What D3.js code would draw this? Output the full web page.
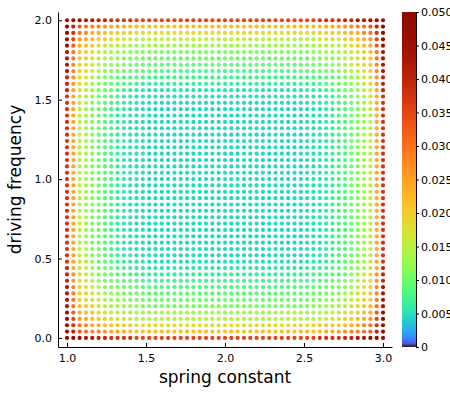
<!DOCTYPE html>
<html>
<head>
<meta charset="utf-8">
<script src="https://cdn.jsdelivr.net/npm/d3@7"></script>
<style>
  body { margin: 0; background: #fff; }
</style>
</head>
<body>
<div id="chart"></div>
<script>
'use strict';

// parameter scan: x = spring constant, y = driving frequency (top row first)
const springConstant = [1.00, 1.04, 1.08, 1.12, 1.16, 1.20, 1.24, 1.28, 1.32, 1.36, 1.40, 1.44, 1.48,
  1.52, 1.56, 1.60, 1.64, 1.68, 1.72, 1.76, 1.80, 1.84, 1.88, 1.92, 1.96, 2.00, 2.04, 2.08, 2.12,
  2.16, 2.20, 2.24, 2.28, 2.32, 2.36, 2.40, 2.44, 2.48, 2.52, 2.56, 2.60, 2.64, 2.68, 2.72, 2.76,
  2.80, 2.84, 2.88, 2.92, 2.96, 3.00];

const drivingFrequency = [2.00, 1.96, 1.92, 1.88, 1.84, 1.80, 1.76, 1.72, 1.68, 1.64, 1.60, 1.56, 1.52,
  1.48, 1.44, 1.40, 1.36, 1.32, 1.28, 1.24, 1.20, 1.16, 1.12, 1.08, 1.04, 1.00, 0.96, 0.92, 0.88,
  0.84, 0.80, 0.76, 0.72, 0.68, 0.64, 0.60, 0.56, 0.52, 0.48, 0.44, 0.40, 0.36, 0.32, 0.28, 0.24,
  0.20, 0.16, 0.12, 0.08, 0.04, 0.00];

// one character per point, looked up in levelValues (spaces only for readability)
const levelCodes = '0123456789abcdefghijklmnopqrst';
const levelValues = [0.0045, 0.0050, 0.0055, 0.0060, 0.0065, 0.0070, 0.0075, 0.0080, 0.0090, 0.0100,
  0.0110, 0.0120, 0.0130, 0.0140, 0.0150, 0.0165, 0.0180, 0.0200, 0.0220, 0.0240, 0.0260, 0.0280,
  0.0300, 0.0325, 0.0350, 0.0375, 0.0400, 0.0430, 0.0460, 0.0500];

const errorRows = [
  'ttsrrqqppppooo ooooo ooooo ooooo ooooo ooo oooppppqqrrstt',
  'tqnmllkjjjiiii iiiii iiiii iiiii iiiii iii iiiijjjkllmnqt',
  'tpmljjihhhhggg ggggg ggggg ggggg ggggg ggg ggghhhhijjlmpt',
  'tokjihhggffeee eeeee eeeee eeeee eeeee eee eeeffgghhijkot',
  'snjihgfeeddccc ccccc ccccc ccccc ccccc ccc cccddeefghijns',
  'rmihgfedccbbaa aaaaa aaaaa aaaaa aaaaa aaa aabbccdefghimr',
  'rmhhfedcbbaa99 99999 99999 99999 99999 999 99aabbcdefhhmr',
  'rlhgfecbba9998 88888 88888 88888 88888 888 8999abbcefghlr',
  'rlhgedbaa99888 77777 77777 77777 77777 777 88899aabdeghlr',
  'qkgfdba9877766 55555 55555 55555 55555 555 6677789abdfgkq',
  'qkgecb98876544 44444 44444 44444 44444 444 44567889bcegkq',
  'qjfeba98754332 22222 22222 22222 22222 222 23345789abefjq',
  'pjfdb987543221 11111 11111 11111 11111 111 122345789bdfjp',
  'pjfda986543211 00000 00000 00000 00000 000 112345689adfjp',
  'pjeda976432110 00000 00000 00000 00000 000 011234679adejp',
  'pjeda976432110 00000 00000 00000 00000 000 011234679adejp',
  'pjeda976432110 00000 00000 00000 00000 000 011234679adejp',
  'pjeda976432110 00000 00000 00000 00000 000 011234679adejp',
  'pjeda976432110 00000 00000 00000 00000 000 011234679adejp',
  'pjeda976432110 00000 00000 00000 00000 000 011234679adejp',
  'pjeda976432110 00000 00000 00000 00000 000 011234679adejp',
  'pjeda976432110 00000 00000 00000 00000 000 011234679adejp',
  'pjeda976432110 00000 00000 00000 00000 000 011234679adejp',
  'pjeda976432110 00000 00000 00000 00000 000 011234679adejp',
  'pjeda976432110 00000 00000 00000 00000 000 011234679adejp',
  'pjeda976432110 00000 00000 00000 00000 000 011234679adejp',
  'pjeda976432110 00000 00000 00000 00000 000 011234679adejp',
  'pjeda976432110 00000 00000 00000 00000 000 011234679adejp',
  'pjeda976432110 00000 00000 00000 00000 000 011234679adejp',
  'pjeda976432110 00000 00000 00000 00000 000 011234679adejp',
  'pjeda976432110 00000 00000 00000 00000 000 011234679adejp',
  'pjeda976432110 00000 00000 00000 00000 000 011234679adejp',
  'pjeda976432110 00000 00000 00000 00000 000 011234679adejp',
  'pjeda976432110 00000 00000 00000 00000 000 011234679adejp',
  'pjeda976432110 00000 00000 00000 00000 000 011234679adejp',
  'pjeda976432110 00000 00000 00000 00000 000 011234679adejp',
  'pjeda976432110 00000 00000 00000 00000 000 011234679adejp',
  'pjfda986543211 00000 00000 00000 00000 000 112345689adfjp',
  'pjfdb987543221 11111 11111 11111 11111 111 122345789bdfjp',
  'qjfeba98754332 22222 22222 22222 22222 222 23345789abefjq',
  'qkgecb98876544 44444 44444 44444 44444 444 44567889bcegkq',
  'qkgfdba9877766 55555 55555 55555 55555 555 6677789abdfgkq',
  'rlhgedbaa99888 77777 77777 77777 77777 777 88899aabdeghlr',
  'rlhgfecbba9998 88888 88888 88888 88888 888 8999abbcefghlr',
  'rmhhfedcbbaa99 99999 99999 99999 99999 999 99aabbcdefhhmr',
  'rmihgfedccbbaa aaaaa aaaaa aaaaa aaaaa aaa aabbccdefghimr',
  'snjihgfeeddccc ccccc ccccc ccccc ccccc ccc cccddeefghijns',
  'tokjihhggffeee eeeee eeeee eeeee eeeee eee eeeffgghhijkot',
  'tpmljjihhhhggg ggggg ggggg ggggg ggggg ggg ggghhhhijjlmpt',
  'tqnmllkjjjiiii iiiii iiiii iiiii iiiii iii iiiijjjkllmnqt',
  'ttsrrqqppppooo ooooo ooooo ooooo ooooo ooo oooppppqqrrstt'
];

const xTicks = [1.0, 1.5, 2.0, 2.5, 3.0];
const yTicks = [0.0, 0.5, 1.0, 1.5, 2.0];
const colorTicks = [0, 0.005, 0.010, 0.015, 0.020, 0.025, 0.030, 0.035, 0.040, 0.045, 0.050];
const colorTickLabels = ['0', '0.005', '0.010', '0.015', '0.020', '0.025', '0.030', '0.035',
  '0.040', '0.045', '0.050'];

drawChart('#chart');

function drawChart(el) {
  const width = 450;
  const height = 400;
  const left = 58;
  const right = 392;
  const top = 12;
  const bottom = 347;
  const barLeft = 402;
  const barRight = 416;
  const font = '"DejaVu Sans", sans-serif';

  const svg = d3.select(el)
    .append('svg')
    .attr('width', width)
    .attr('height', height);

  const scaleX = d3.scaleLinear()
    .domain([0.943, 3.057])
    .range([left, right]);

  const scaleY = d3.scaleLinear()
    .domain([-0.057, 2.052])
    .range([bottom, top]);

  // turbo colormap on a sqrt scale
  const color = d3.scaleSequentialSqrt(d3.interpolateTurbo)
    .domain([0, 0.05]);

  const points = [];
  errorRows.forEach((row, r) => {
    row.replace(/ /g, '').split('').forEach((ch, c) => {
      points.push({
        k: springConstant[c],
        w: drivingFrequency[r],
        err: levelValues[levelCodes.indexOf(ch)]
      });
    });
  });

  svg.append('g')
    .selectAll('circle')
    .data(points)
    .enter()
    .append('circle')
    .attr('cx', d => scaleX(d.k))
    .attr('cy', d => scaleY(d.w))
    .attr('r', 2.1)
    .attr('fill', d => color(d.err));

  // axes, ticks pointing inside
  svg.append('g')
    .attr('transform', `translate(0, ${bottom})`)
    .call(d3.axisBottom(scaleX)
      .tickValues(xTicks)
      .tickFormat(d3.format('.1f'))
      .tickSizeInner(-4)
      .tickSizeOuter(0)
      .tickPadding(7))
    .attr('font-family', font)
    .attr('font-size', 11);

  svg.append('g')
    .attr('transform', `translate(${left}, 0)`)
    .call(d3.axisLeft(scaleY)
      .tickValues(yTicks)
      .tickFormat(d3.format('.1f'))
      .tickSizeInner(-4)
      .tickSizeOuter(0)
      .tickPadding(6))
    .attr('font-family', font)
    .attr('font-size', 11);

  // colorbar
  const grad = svg.append('defs')
    .append('linearGradient')
    .attr('id', 'cbar')
    .attr('x1', 0).attr('y1', 1)
    .attr('x2', 0).attr('y2', 0);

  grad.selectAll('stop')
    .data(d3.range(0, 101))
    .enter()
    .append('stop')
    .attr('offset', i => i / 100)
    .attr('stop-color', i => color(i / 100 * 0.05));

  svg.append('rect')
    .attr('x', barLeft)
    .attr('y', top)
    .attr('width', barRight - barLeft)
    .attr('height', bottom - top)
    .attr('fill', 'url(#cbar)');

  const scaleC = d3.scaleLinear()
    .domain([0, 0.05])
    .range([bottom, top]);

  svg.append('g')
    .attr('transform', `translate(${barRight}, 0)`)
    .call(d3.axisRight(scaleC)
      .tickValues(colorTicks)
      .tickFormat((d, i) => colorTickLabels[i])
      .tickSizeInner(3)
      .tickSizeOuter(0)
      .tickPadding(2))
    .attr('font-family', font)
    .attr('font-size', 11);

  // axis titles
  svg.append('text')
    .attr('x', (left + right) / 2)
    .attr('y', 383)
    .attr('text-anchor', 'middle')
    .attr('font-family', font)
    .attr('font-size', 17)
    .text('spring constant');

  svg.append('text')
    .attr('transform', `translate(21, ${(top + bottom) / 2}) rotate(-90)`)
    .attr('text-anchor', 'middle')
    .attr('font-family', font)
    .attr('font-size', 17)
    .text('driving frequency');
}
</script>
</body>
</html>
